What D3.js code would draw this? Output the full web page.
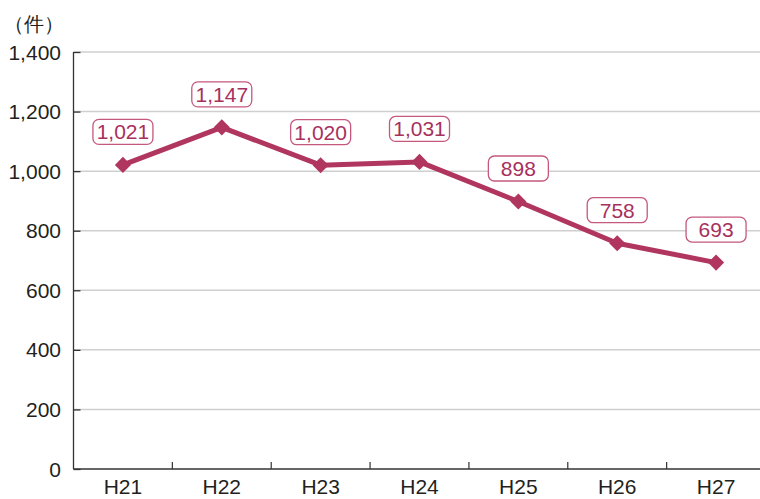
<!DOCTYPE html>
<html>
<head>
<meta charset="utf-8">
<script src="https://cdn.jsdelivr.net/npm/d3@7"></script>
<style>
  body { margin: 0; background: #fff; }
  svg { display: block; font-family: "Liberation Sans", Arial, sans-serif; }
</style>
</head>
<body>
<script>
// data
var years = ["H21", "H22", "H23", "H24", "H25", "H26", "H27"];
var counts = [1021, 1147, 1020, 1031, 898, 758, 693];
var yTicks = [0, 200, 400, 600, 800, 1000, 1200, 1400];
var unitLabel = "（件）";

var width = 760;
var height = 499;

var margin = { top: 52, bottom: 30, left: 73.5, right: -5.5 };

var svg = d3.select("body")
    .append("svg")
    .attr("width", width)
    .attr("height", height);

var x = d3.scaleBand()
    .domain(years)
    .range([margin.left, width - margin.right]);

var y = d3.scaleLinear()
    .domain([0, 1400])
    .range([height - margin.bottom, margin.top]);

var lineColor = "#b0365f";

// gridlines
svg.append("g")
    .selectAll("line")
    .data(yTicks.filter(function (d) { return d > 0; }))
    .enter().append("line")
    .attr("x1", margin.left)
    .attr("x2", width)
    .attr("y1", function (d) { return y(d); })
    .attr("y2", function (d) { return y(d); })
    .attr("stroke", "#cfcfcf")
    .attr("stroke-width", 1.5);

// y axis (ticks pointing inward)
var yAxis = svg.append("g")
    .attr("transform", "translate(" + margin.left + ",0)")
    .call(d3.axisRight(y).tickValues(yTicks).tickSize(7).tickFormat(""));
yAxis.select(".domain").remove();
yAxis.selectAll("line").attr("stroke", "#333").attr("stroke-width", 1.3);
svg.append("line")
    .attr("x1", margin.left).attr("x2", margin.left)
    .attr("y1", y(1400)).attr("y2", y(0))
    .attr("stroke", "#333").attr("stroke-width", 1.3);

svg.append("g")
    .selectAll("text")
    .data(yTicks)
    .enter().append("text")
    .attr("x", 61)
    .attr("y", function (d) { return y(d); })
    .attr("dy", "0.36em")
    .attr("text-anchor", "end")
    .attr("font-size", 21)
    .attr("fill", "#231f20")
    .text(function (d) { return d3.format(",")(d); });

// x axis
svg.append("line")
    .attr("x1", margin.left).attr("x2", width)
    .attr("y1", y(0)).attr("y2", y(0))
    .attr("stroke", "#333").attr("stroke-width", 1.5);

svg.append("g")
    .selectAll("line")
    .data(years.slice(1))
    .enter().append("line")
    .attr("x1", function (d) { return x(d); })
    .attr("x2", function (d) { return x(d); })
    .attr("y1", y(0))
    .attr("y2", y(0) - 7)
    .attr("stroke", "#333")
    .attr("stroke-width", 1.2);

svg.append("g")
    .selectAll("text")
    .data(years)
    .enter().append("text")
    .attr("x", function (d) { return x(d) + x.bandwidth() / 2; })
    .attr("y", 494)
    .attr("text-anchor", "middle")
    .attr("font-size", 21)
    .attr("fill", "#231f20")
    .text(function (d) { return d; });

// unit
svg.append("text")
    .attr("x", 4)
    .attr("y", 31)
    .attr("font-size", 20)
    .attr("fill", "#231f20")
    .text(unitLabel);

// line
var cx = function (d, i) { return x(years[i]) + x.bandwidth() / 2; };

svg.append("path")
    .datum(counts)
    .attr("fill", "none")
    .attr("stroke", lineColor)
    .attr("stroke-width", 5)
    .attr("stroke-linejoin", "round")
    .attr("d", d3.line()
        .x(cx)
        .y(function (d) { return y(d); }));

// markers
svg.append("g")
    .selectAll("path")
    .data(counts)
    .enter().append("path")
    .attr("d", d3.symbol().type(d3.symbolDiamond2).size(165))
    .attr("transform", function (d, i) {
        return "translate(" + cx(d, i) + "," + y(d) + ")";
    })
    .attr("fill", lineColor);

// value labels
var labels = svg.append("g")
    .selectAll("g")
    .data(counts)
    .enter().append("g")
    .attr("transform", function (d, i) {
        return "translate(" + cx(d, i) + "," + (y(d) - 33) + ")";
    });

labels.append("rect")
    .attr("x", -30)
    .attr("y", -12.5)
    .attr("width", 60)
    .attr("height", 25)
    .attr("rx", 6)
    .attr("fill", "#fff")
    .attr("stroke", "#c4587f")
    .attr("stroke-width", 1.3);

labels.append("text")
    .attr("text-anchor", "middle")
    .attr("dy", "0.36em")
    .attr("font-size", 21)
    .attr("fill", "#a8305d")
    .text(function (d) { return d3.format(",")(d); });
</script>
</body>
</html>
